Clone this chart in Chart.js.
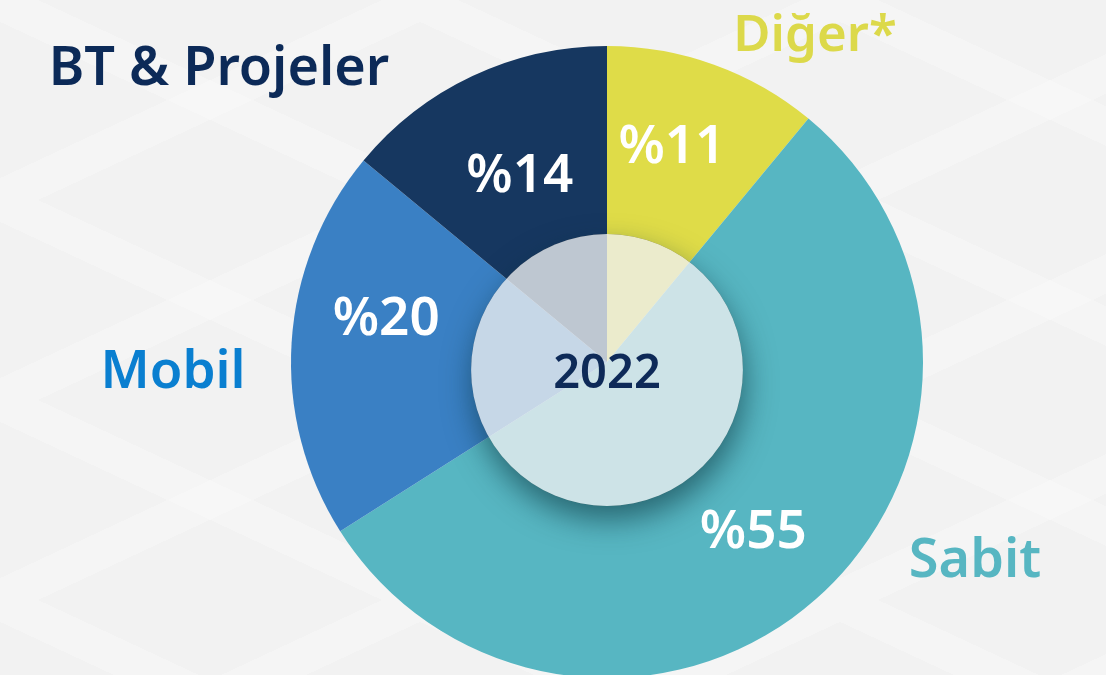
<!DOCTYPE html>
<html>
<head>
<meta charset="utf-8">
<script src="https://cdn.jsdelivr.net/npm/chart.js@4.4.0/dist/chart.umd.min.js"></script>
<style>
  html, body { margin:0; padding:0; width:1106px; height:675px; overflow:hidden; }
  body {
    background-color:#f2f2f2;
    background-image:
      linear-gradient(155deg, rgba(255,255,255,0) 0 45%, rgba(255,255,255,0.22) 45% 55%, rgba(255,255,255,0) 55%),
      linear-gradient(25deg, rgba(255,255,255,0) 0 45%, rgba(255,255,255,0.22) 45% 55%, rgba(255,255,255,0) 55%);
    background-size: 420px 200px;
  }
  #wrap { position:absolute; left:0; top:0; width:1106px; height:724px; }
</style>
</head>
<body>
<div id="wrap"><canvas id="c"></canvas></div>
<script>
// ---- data ----
const categories = ["Diğer*", "Sabit", "Mobil", "BT & Projeler"];
const shares = [11, 55, 20, 14];
const centerLabel = "2022";

// ---- style ----
const sliceColors = ["#dfdc48", "#57b6c2", "#3a80c4", "#163760"];
const nameColors  = ["#dcd94a", "#57b6c2", "#0a7fd0", "#0c2a58"];
const nameSizes   = [51, 54, 53, 54];
// placement of category names on the page (text positions, not marks)
const namePos = [[815, 36], [975, 562], [173, 373], [219, 70]];
// nudges for the percentage labels relative to slice centre angle
const pctNudge = [[-10, -6], [0, 5], [0, -28], [7, 15]];
const FONT = "'Noto Sans', 'Open Sans', sans-serif";

const labelPlugin = {
  id: 'labels',
  afterDatasetsDraw(chart) {
    const ctx = chart.ctx;
    const meta = chart.getDatasetMeta(0);
    const arc0 = meta.data[0];
    const cx = arc0.x, cy = arc0.y, R = arc0.outerRadius;
    const rIn = R * 0.43;
    const icx = cx, icy = cy + 8;

    // shadow of the centre disc (only outside of it)
    ctx.save();
    ctx.beginPath();
    ctx.rect(0, 0, chart.width, chart.height);
    ctx.arc(icx, icy, rIn, 0, Math.PI * 2, true);
    ctx.clip('evenodd');
    ctx.shadowColor = 'rgba(10,50,60,0.6)';
    ctx.shadowBlur = 30;
    ctx.shadowOffsetY = 14;
    ctx.shadowOffsetX = 2;
    ctx.fillStyle = '#444';
    ctx.beginPath();
    ctx.arc(icx, icy, rIn, 0, Math.PI * 2);
    ctx.fill();
    ctx.restore();

    // translucent disc
    ctx.save();
    ctx.fillStyle = 'rgba(238,240,241,0.78)';
    ctx.beginPath();
    ctx.arc(icx, icy, rIn, 0, Math.PI * 2);
    ctx.fill();
    ctx.restore();

    // centre label
    ctx.save();
    ctx.fillStyle = '#0e2a58';
    ctx.font = "600 47px " + FONT;
    ctx.textAlign = 'center';
    ctx.textBaseline = 'middle';
    ctx.fillText(centerLabel, icx, icy + 5);
    ctx.restore();

    // percentage labels
    ctx.save();
    ctx.fillStyle = '#ffffff';
    ctx.font = "600 53px " + FONT;
    ctx.textAlign = 'center';
    ctx.textBaseline = 'middle';
    meta.data.forEach((arc, i) => {
      const mid = (arc.startAngle + arc.endAngle) / 2;
      const r = R * 0.70;
      const x = cx + Math.cos(mid) * r + pctNudge[i][0];
      const y = cy + Math.sin(mid) * r + pctNudge[i][1];
      ctx.fillText('%' + shares[i], x, y);
    });
    ctx.restore();

    // category names
    ctx.save();
    ctx.textAlign = 'center';
    ctx.textBaseline = 'middle';
    categories.forEach((name, i) => {
      ctx.font = "600 " + nameSizes[i] + "px " + FONT;
      ctx.fillStyle = nameColors[i];
      ctx.fillText(name, namePos[i][0], namePos[i][1]);
    });
    ctx.restore();
  }
};

new Chart(document.getElementById('c'), {
  type: 'pie',
  data: {
    labels: categories,
    datasets: [{
      data: shares,
      backgroundColor: sliceColors,
      borderWidth: 0
    }]
  },
  options: {
    responsive: true,
    maintainAspectRatio: false,
    animation: false,
    layout: { padding: { top: 46, bottom: 46, left: 108, right: 0 } },
    plugins: {
      legend: { display: false },
      tooltip: { enabled: false }
    }
  },
  plugins: [labelPlugin]
});
</script>
</body>
</html>
